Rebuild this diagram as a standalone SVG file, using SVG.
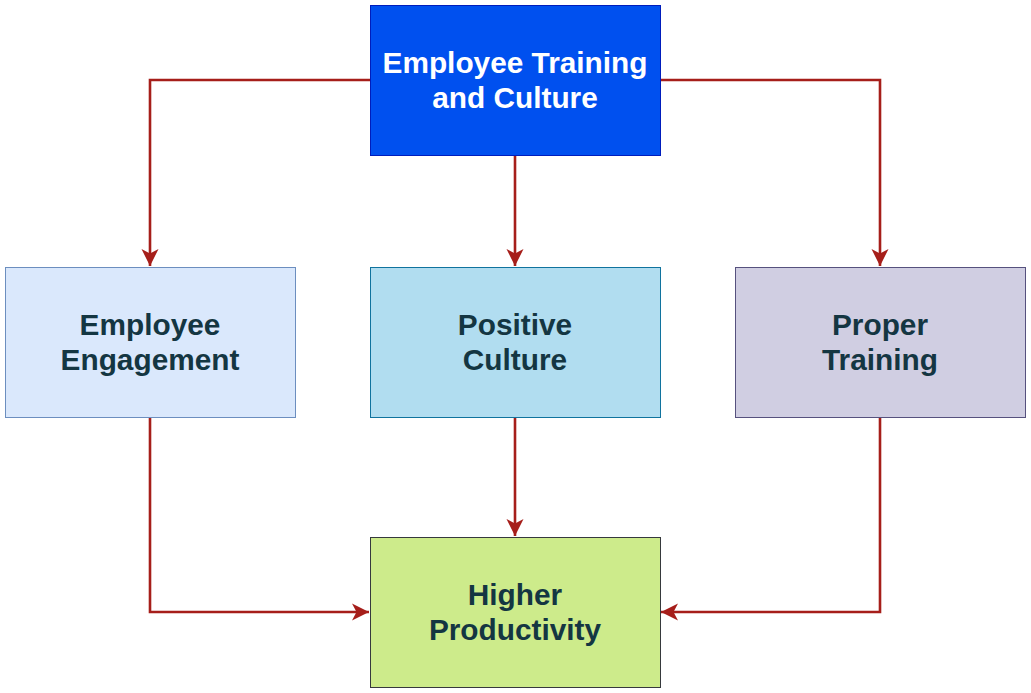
<svg xmlns="http://www.w3.org/2000/svg" width="1031" height="693" viewBox="0 0 1031 693">
  <style>
    .box { stroke-width: 1; }
    .lbl { font-family: "Liberation Sans", Arial, sans-serif; font-weight: bold; font-size: 29.8px; text-anchor: middle; fill: #143642; }
    .wht { fill: #ffffff; }
    .edge { fill: none; stroke: #A61E1A; stroke-width: 2.6; marker-end: url(#arr); }
  </style>
  <defs>
    <marker id="arr" markerUnits="userSpaceOnUse" markerWidth="20" markerHeight="20" viewBox="-18 -10 20 20" refX="0" refY="0" orient="auto">
      <path d="M0,0 L-17,-8.5 L-12.5,0 L-17,8.5 Z" fill="#A61E1A"/>
    </marker>
  </defs>
  <rect width="1031" height="693" fill="#ffffff"/>
  <g id="connectors">
    <path class="edge" d="M370,80 H150 V266"/>
    <path class="edge" d="M515,155 V266"/>
    <path class="edge" d="M660,80 H880 V266"/>
    <path class="edge" d="M150,417 V612 H369"/>
    <path class="edge" d="M515,417 V536"/>
    <path class="edge" d="M880,417 V612 H661"/>
  </g>
  <g id="node-top">
    <rect class="box" x="370.5" y="5.5" width="290" height="150" fill="#0050EF" stroke="#001DBC"/>
    <text class="lbl wht" x="515" y="73">Employee Training</text>
    <text class="lbl wht" x="515" y="108.4">and Culture</text>
  </g>
  <g id="node-engagement">
    <rect class="box" x="5.5" y="267.5" width="290" height="150" fill="#DAE8FC" stroke="#6C8EBF"/>
    <text class="lbl" x="150" y="335">Employee</text>
    <text class="lbl" x="150" y="370.4">Engagement</text>
  </g>
  <g id="node-culture">
    <rect class="box" x="370.5" y="267.5" width="290" height="150" fill="#B1DDF0" stroke="#10739E"/>
    <text class="lbl" x="515" y="335">Positive</text>
    <text class="lbl" x="515" y="370.4">Culture</text>
  </g>
  <g id="node-training">
    <rect class="box" x="735.5" y="267.5" width="290" height="150" fill="#D0CEE2" stroke="#56517E"/>
    <text class="lbl" x="880" y="335">Proper</text>
    <text class="lbl" x="880" y="370.4">Training</text>
  </g>
  <g id="node-productivity">
    <rect class="box" x="370.5" y="537.5" width="290" height="150" fill="#CDEB8B" stroke="#36393D"/>
    <text class="lbl" x="515" y="605">Higher</text>
    <text class="lbl" x="515" y="640.4">Productivity</text>
  </g>
</svg>
